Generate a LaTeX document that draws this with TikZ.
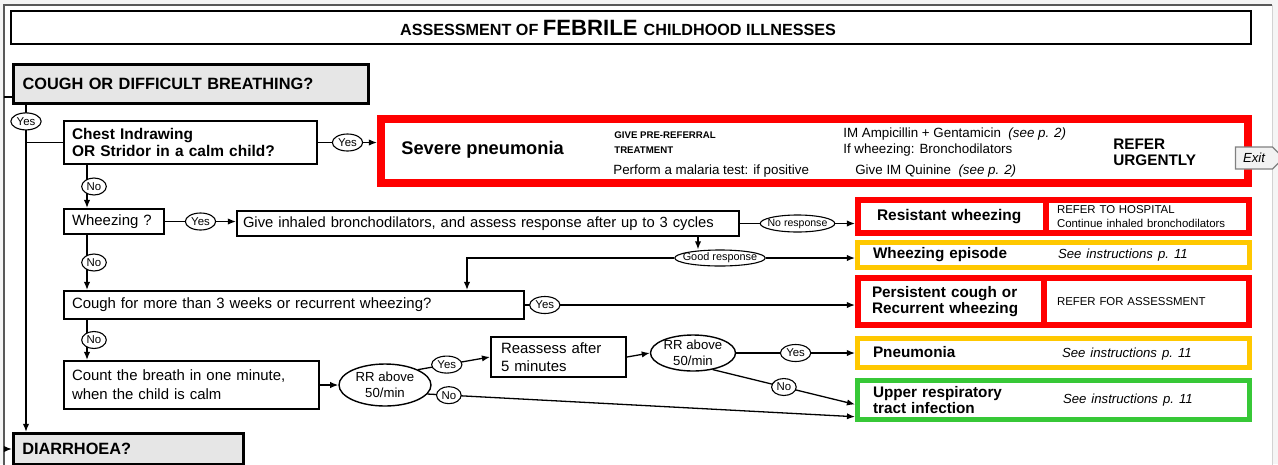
\documentclass[tikz,border=0pt]{standalone}
\usepackage{fontspec}
\setmainfont{Liberation Sans}
\usetikzlibrary{arrows.meta,calc,shapes.geometric,shapes.symbols}

\newlength{\px}
\setlength{\px}{0.02cm}
\definecolor{alarm}{RGB}{255,0,0}
\definecolor{caution}{RGB}{255,200,0}
\definecolor{safe}{RGB}{55,200,55}
\definecolor{headfill}{RGB}{230,230,230}
\newcommand{\fs}[2]{\fontsize{#1}{#2}\selectfont}
\newcommand{\seeins}{{\itshape\fs{7.5}{9}See instructions p.~11}}

\begin{document}
\begin{tikzpicture}[x=0.02cm, y=-0.02cm,
    every node/.style={font=\fs{8.5}{10.4}},
    txt/.style={inner sep=0pt},
    qbox/.style={draw, line width=2\px, inner xsep=8\px, inner ysep=0pt, align=left},
    hbox/.style={qbox, fill=headfill, line width=2.6\px, inner xsep=9\px, font=\bfseries\fs{9.3}{11}},
    res/.style={draw=#1, fill=white, line width=6\px, inner ysep=0pt, align=left},
    lab/.style={ellipse, draw, fill=white, line width=1.1\px, minimum height=17\px, inner xsep=0.8pt, inner ysep=0.2pt, font=\fs{6.5}{7}},
    rr/.style={ellipse, draw, line width=1.4\px, align=center, inner sep=0pt, font=\fs{7.5}{8.8}},
    con/.style={line width=1.3\px},
    arr/.style={con, -{Latex[length=4.6pt, width=3.6pt]}}]

  % page
  \useasboundingbox (0,0) rectangle (1278,464);
  \fill[gray!8] (0,0) rectangle (1278,464);
  \fill[white] (4,5) rectangle (1272,470);
  \draw[gray!70!black, line width=1.4\px] (4,470) -- (4,5) -- (1272,5);
  \draw[gray!35] (1272,5) -- (1272,470);

  % heading
  \node[draw, line width=1.6\px, minimum width=1240\px, minimum height=33\px] (title) at (631,27.5) {};
  \node[txt, font=\bfseries] (title-t) at (618,27.5) {\fs{9.2}{11}ASSESSMENT OF \fs{12.6}{13}FEBRILE \fs{9.2}{11}CHILDHOOD ILLNESSES};

  % questions
  \node[hbox, minimum height=39.5\px, text width=337\px] (cough) at (191,84) {COUGH OR DIFFICULT BREATHING?};
  \node[qbox, minimum height=43\px, text width=237\px, font=\bfseries\fs{8.8}{9.7}] (chest) at (190.5,142.5) {Chest Indrawing\\OR Stridor in a calm child?};
  \node[qbox, minimum height=25\px, text width=84\px] (wheez) at (114,221.5) {Wheezing ?};
  \node[qbox, minimum height=25\px, inner xsep=6\px, text width=490\px, font=\fs{8.4}{10}] (give) at (488,223.5) {Give inhaled bronchodilators, and assess response after up to 3 cycles};
  \node[qbox, minimum height=28\px, text width=444\px] (cough3) at (294,305) {Cough for more than 3 weeks or recurrent wheezing?};
  \node[qbox, minimum height=48\px, text width=239\px, font=\fs{8.5}{10.8}] (count) at (191.5,385) {Count the breath in one minute,\\when the child is calm};
  \node[qbox, minimum height=40\px, inner xsep=10\px, text width=115\px, font=\fs{8.5}{10.2}] (reassess) at (558.5,357) {Reassess after\\5 minutes};
  \node[hbox, minimum height=31.5\px, text width=212.5\px] (diarr) at (128.5,449) {DIARRHOEA?};

  \node[rr, minimum width=92\px, minimum height=42\px] (rr1) at (385,385) {RR above\\50/min};
  \node[rr, minimum width=85\px, minimum height=36\px] (rr2) at (693,353) {RR above\\50/min};
  \node[lab, minimum height=16\px, inner xsep=-3pt, font=\fs{6.2}{7}] (good) at (720,258) {Good response};

  % classifications
  \node[res=alarm, line width=8\px, minimum width=867\px, minimum height=64\px] (severe) at (814.5,151) {};
  \node[txt, anchor=base west, font=\bfseries\fs{10.4}{12}] (severe-t) at (401,154) {Severe pneumonia};
  \node[txt, anchor=west, align=left, font=\bfseries\fs{5.5}{8.5}] (prerefer) at (614,143) {GIVE PRE-REFERRAL\\TREATMENT};
  \node[txt, anchor=base west, font=\fs{7.6}{9}] (malaria) at (613,174) {Perform a malaria test: if positive};
  \node[txt, anchor=west, align=left, font=\fs{7.6}{9}] (ampi) at (843,142) {IM Ampicillin + Gentamicin \ \textit{(see p. 2)}\\If wheezing: Bronchodilators};
  \node[txt, anchor=base west, font=\fs{7.6}{9}] (quinine) at (855,174) {Give IM Quinine \ \textit{(see p. 2)}};
  \node[txt, anchor=west, align=left, font=\bfseries\fs{8.7}{9.3}] (urgent) at (1113,152) {REFER\\URGENTLY};
  \node[signal, signal to=east, draw=gray, fill=gray!10, line width=1.3\px, minimum width=48\px, minimum height=22\px, inner sep=1pt, font=\itshape\fs{7.5}{9}] (exit) at (1254,158) {Exit};

  \node[res=alarm, minimum height=33\px, inner xsep=19\px, text width=150\px, font=\bfseries\fs{8.8}{10}] (resistL) at (952,216.5) {Resistant wheezing};
  \node[res=alarm, minimum height=33\px, inner xsep=11\px, text width=181\px, font=\fs{6.5}{8}] (resistR) at (1147.5,216.5) {REFER TO HOSPITAL\\Continue inhaled bronchodilators};
  \node[res=caution, line width=5\px, minimum height=25\px, inner xsep=15.5\px, text width=361\px] (episode) at (1053.5,255) {\makebox[185\px][l]{\bfseries\fs{8.7}{10}Wheezing episode}\seeins};
  \node[res=alarm, minimum height=47\px, inner xsep=14\px, text width=158\px, font=\bfseries\fs{8.7}{8.9}] (persistL) at (951,301.5) {Persistent cough or\\Recurrent wheezing};
  \node[res=alarm, minimum height=47\px, inner xsep=13\px, text width=179\px, font=\fs{6.5}{8}] (persistR) at (1146.5,301.5) {REFER FOR ASSESSMENT};
  \node[res=caution, line width=5\px, minimum height=29\px, inner xsep=15.5\px, text width=361\px] (pneu) at (1053.5,353) {\makebox[189\px][l]{\bfseries\fs{8.7}{10}Pneumonia}\seeins};
  \node[res=safe, line width=5\px, minimum height=39\px, inner xsep=15.5\px, text width=361\px] (urti) at (1053.5,400) {\parbox[c]{190\px}{\bfseries\fs{8.7}{9}Upper respiratory\\tract infection}\seeins};

  % connectors
  \coordinate (rail) at (4,0);
  \coordinate (trunk) at (26,0);
  \coordinate (col) at (87,0);
  \coordinate (gdrop) at (698,0);
  \coordinate (drop) at (467,0);

  \draw[con] ([yshift=-13\px]cough.west) -- ([yshift=-13\px]cough.west -| rail);
  \draw[arr] (diarr.west -| rail) -- (diarr.west);
  \draw[arr] (cough.south -| trunk) -- node[lab, pos=0.05] {Yes} (diarr.north -| trunk);
  \draw[con] (chest.west -| trunk) -- (chest.west);
  \draw[arr] (chest.east) -- node[lab] {Yes} (chest.east -| severe.west);
  \draw[arr] (chest.south -| col) -- node[lab, xshift=7\px] {No} (wheez.north -| col);
  \draw[arr] (wheez.east) -- node[lab] {Yes} (wheez.east -| give.west);
  \draw[arr] (give.east) -- node[lab, inner xsep=-2pt, font=\fs{6}{7}] {No response} (give.east -| resistL.west);
  \draw[arr] (give.south -| gdrop) -- (good.north -| gdrop);
  \draw[arr] (good.east) -- (good.east -| episode.west);
  \draw[arr] (good.west) -| (cough3.north -| drop);
  \draw[arr] (wheez.south -| col) -- node[lab, xshift=7\px] {No} (cough3.north -| col);
  \draw[arr] (cough3.east) -- node[lab, pos=0.06] {Yes} (cough3.east -| persistL.west);
  \draw[arr] (cough3.south -| col) -- node[lab, xshift=7\px] {No} (count.north -| col);
  \draw[arr] (count.east) -- (rr1.west);
  \draw[arr] (rr1.25) -- node[lab, pos=0.4] {Yes} (reassess.west);
  \draw[arr] (rr1.-12) -- node[lab, pos=0.05] {No} ($(urti.north west)!0.88!(urti.south west)$);
  \draw[arr] (reassess.east) -- (rr2.west);
  \draw[arr] (rr2.east) -- node[lab] {Yes} (rr2.east -| pneu.west);
  \draw[arr] (rr2.-40) -- node[lab] {No} ($(urti.north west)!0.6!(urti.south west)$);
\end{tikzpicture}
\end{document}
